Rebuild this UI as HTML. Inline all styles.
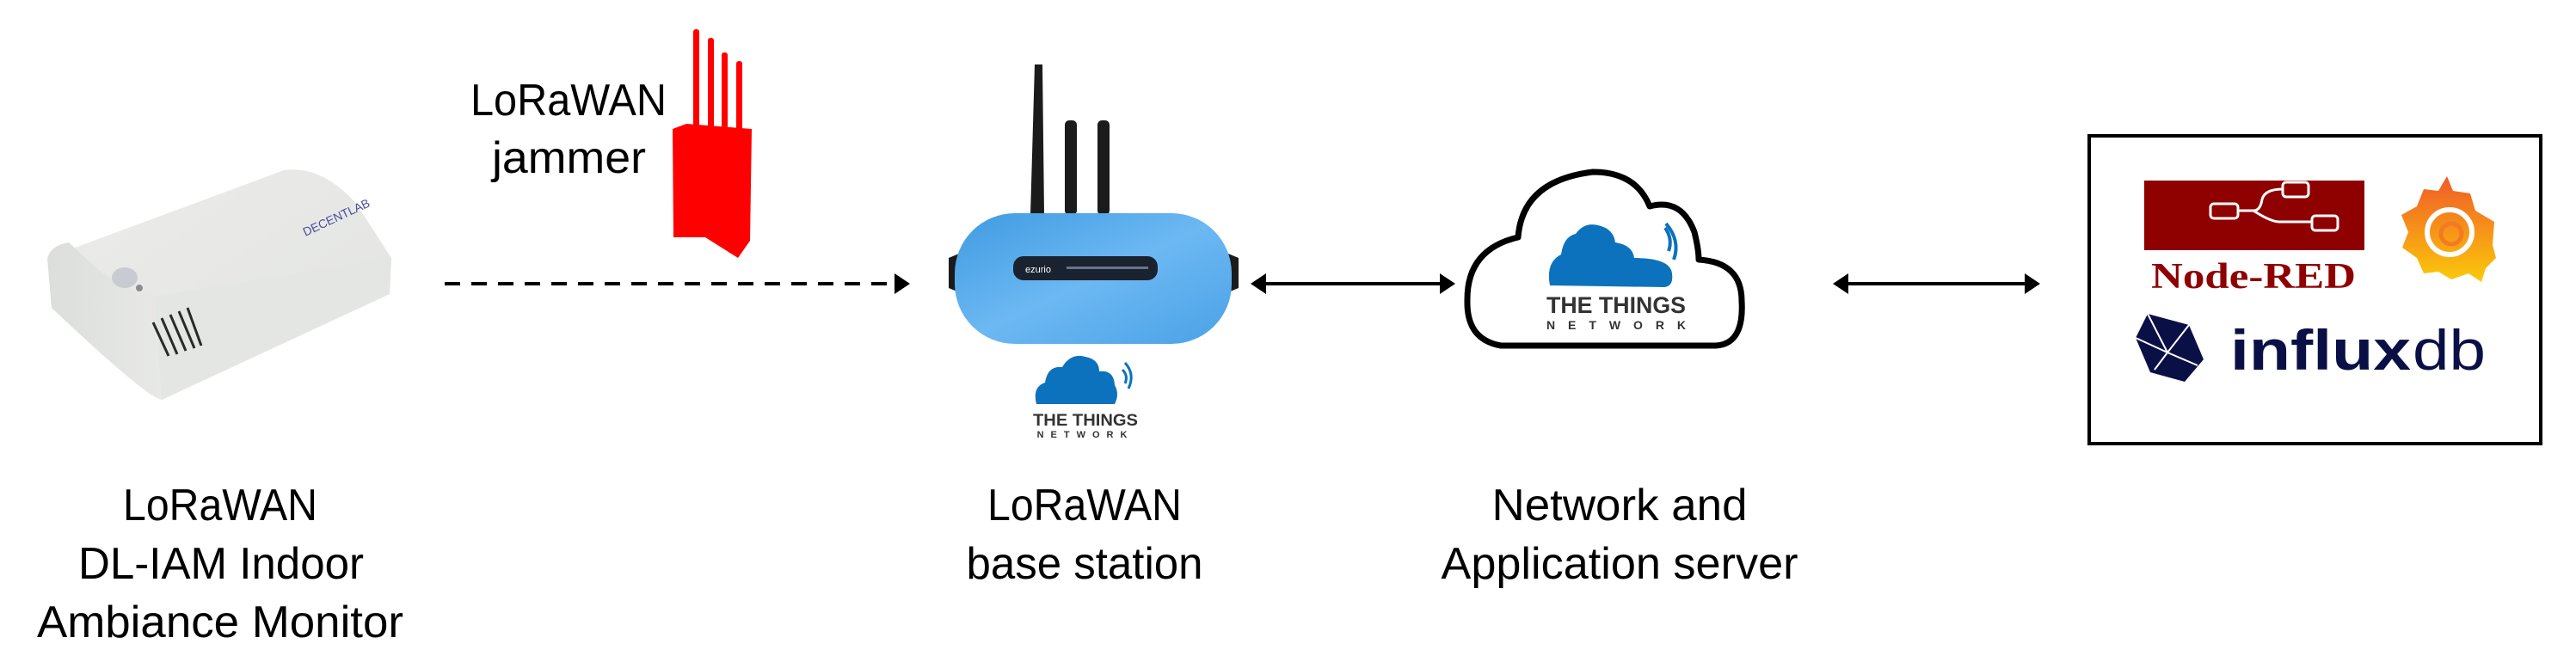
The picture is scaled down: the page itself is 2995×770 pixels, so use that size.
<!DOCTYPE html>
<html><head><meta charset="utf-8"><style>
html,body{margin:0;padding:0;background:#fff;}
svg{display:block;}
text{font-family:"Liberation Sans",sans-serif;}
</style></head><body>
<svg width="2995" height="770" viewBox="0 0 2995 770" xmlns="http://www.w3.org/2000/svg">
<defs>
<linearGradient id="sTop" x1="0" y1="0" x2="1" y2="1"><stop offset="0" stop-color="#ececea"/><stop offset="1" stop-color="#e2e4e2"/></linearGradient>
<linearGradient id="sFront" x1="0" y1="0" x2="1" y2="0"><stop offset="0" stop-color="#dcdedc"/><stop offset="1" stop-color="#e8e9e7"/></linearGradient>
<linearGradient id="blue" x1="0" y1="0" x2="1" y2="1"><stop offset="0" stop-color="#3f9be0"/><stop offset="0.5" stop-color="#6cb8f3"/><stop offset="1" stop-color="#4aa2e6"/></linearGradient>
<linearGradient id="graf" x1="0" y1="0" x2="0" y2="1"><stop offset="0" stop-color="#f05a28"/><stop offset="1" stop-color="#fbca0a"/></linearGradient>
</defs>

<!-- Sensor device -->
<path d="M55,300 L330,198 Q375,192 415,238 L455,300 L453,342 L188,465 Q170,462 60,358 Z" fill="url(#sTop)"/>
<path d="M55,300 Q60,285 80,282 L110,310 Q140,335 180,345 L188,465 Q170,462 60,358 Z" fill="url(#sFront)"/>
<path d="M180,345 L455,300 L453,342 L188,465 Z" fill="#e4e6e4"/>
<ellipse cx="145" cy="323" rx="15" ry="12" fill="#c9cbd2"/>
<circle cx="162" cy="335" r="4" fill="#8a8d90"/>
<g stroke="#2a2a2a" stroke-width="3">
<line x1="178" y1="375" x2="196" y2="414"/><line x1="188" y1="370" x2="206" y2="412"/><line x1="198" y1="366" x2="216" y2="408"/><line x1="208" y1="362" x2="226" y2="405"/><line x1="218" y1="358" x2="234" y2="402"/>
</g>
<text x="355" y="275" font-size="14" fill="#4b4e9a" transform="rotate(-25 355 275)">DECENTLAB</text>

<!-- Jammer -->
<g fill="#ff0000">
<rect x="806" y="34" width="7" height="120" rx="3"/>
<rect x="823" y="44" width="7" height="110" rx="3"/>
<rect x="839" y="61" width="7" height="93" rx="3"/>
<rect x="856" y="71" width="7" height="83" rx="3"/>
<path d="M782,150 L798,144 L874,150 L872,280 L858,300 L820,276 L783,276 Z"/>
</g>
<text x="547" y="134" font-size="52" textLength="228" lengthAdjust="spacingAndGlyphs">LoRaWAN</text>
<text x="572" y="201" font-size="52" textLength="179" lengthAdjust="spacingAndGlyphs">jammer</text>

<!-- Dashed arrow -->
<line x1="517" y1="330" x2="1045" y2="330" stroke="#000" stroke-width="4" stroke-dasharray="18,13"/>
<path d="M1040,318 L1058,330 L1040,342 Z" fill="#000"/>

<!-- Base station -->
<g fill="#1b1b1b">
<path d="M1203,75 L1212,75 L1214,250 L1198,250 Z"/>
<rect x="1238" y="140" width="14" height="110" rx="5"/>
<rect x="1276" y="140" width="14" height="110" rx="5"/>
<path d="M1103,300 L1115,295 L1115,340 L1103,335 Z"/>
<path d="M1428,295 L1440,300 L1440,335 L1428,340 Z"/>
</g>
<rect x="1110" y="248" width="322" height="152" rx="70" fill="url(#blue)"/>
<rect x="1178" y="298" width="168" height="28" rx="12" fill="#1a2230"/>
<text x="1192" y="317" font-size="11" fill="#fff">ezurio</text>
<rect x="1240" y="310" width="95" height="3" fill="#6a7488"/>

<!-- small TTN logo -->
<path d="M1205,470 Q1200,450 1215,445 Q1218,425 1235,427 Q1245,410 1262,415 Q1278,418 1278,432 Q1295,430 1296,448 Q1302,458 1296,470 Z" fill="#0c72bd"/>
<path d="M1305,430 Q1312,437 1308,446" stroke="#0c72bd" stroke-width="3" fill="none"/>
<path d="M1308,422 Q1320,435 1312,452" stroke="#0c72bd" stroke-width="3" fill="none"/>
<text x="1262" y="495" font-size="19" font-weight="bold" fill="#333" text-anchor="middle" textLength="122" lengthAdjust="spacingAndGlyphs">THE THINGS</text>
<text x="1262" y="509" font-size="11" font-weight="bold" fill="#333" text-anchor="middle" letter-spacing="8">NETWORK</text>

<!-- arrow base <-> cloud -->
<line x1="1465" y1="330" x2="1680" y2="330" stroke="#000" stroke-width="4"/>
<path d="M1454,330 L1472,318 L1472,342 Z" fill="#000"/>
<path d="M1692,330 L1674,318 L1674,342 Z" fill="#000"/>

<!-- Big cloud -->
<path d="M1745,402 Q1705,395 1706,350 Q1705,290 1765,276 Q1770,210 1852,200 Q1902,200 1918,240 Q1955,230 1970,270 Q1975,290 1975,302 Q2025,305 2025,350 Q2028,400 1995,402 Z" fill="#fff" stroke="#000" stroke-width="7" stroke-linejoin="round"/>
<path d="M1802,332 Q1797,305 1815,296 Q1818,275 1832,272 Q1842,258 1858,262 Q1876,266 1878,282 Q1898,285 1900,300 Q1942,300 1944,318 Q1946,333 1935,334 Z" fill="#0c72bd"/>
<path d="M1936,265 Q1945,278 1940,292" stroke="#0c72bd" stroke-width="4" fill="none"/>
<path d="M1937,260 Q1954,280 1946,302" stroke="#0c72bd" stroke-width="4" fill="none"/>
<text x="1879" y="364" font-size="27" font-weight="bold" fill="#333" text-anchor="middle" textLength="162" lengthAdjust="spacingAndGlyphs">THE THINGS</text>
<text x="1879" y="383" font-size="14" font-weight="bold" fill="#333" text-anchor="middle" textLength="162" lengthAdjust="spacing">NETWORK</text>

<!-- arrow cloud <-> box -->
<line x1="2140" y1="330" x2="2362" y2="330" stroke="#000" stroke-width="4"/>
<path d="M2131,330 L2149,318 L2149,342 Z" fill="#000"/>
<path d="M2372,330 L2354,318 L2354,342 Z" fill="#000"/>

<!-- Box -->
<rect x="2429" y="158" width="525" height="358" fill="#fff" stroke="#000" stroke-width="4"/>
<rect x="2493" y="210" width="256" height="81" fill="#8f0000"/>
<g fill="none" stroke="#fff" stroke-width="3">
<rect x="2570" y="237" width="32" height="17" rx="4"/>
<rect x="2654" y="212" width="30" height="17" rx="4"/>
<rect x="2688" y="251" width="30" height="17" rx="4"/>
<path d="M2602,245 L2620,245 Q2628,245 2630,232 Q2633,220 2654,220"/>
<path d="M2620,245 Q2640,258 2650,258 L2688,258"/>
</g>
<text x="2620" y="335" font-size="42" font-weight="bold" fill="#8f0000" text-anchor="middle" textLength="238" lengthAdjust="spacingAndGlyphs" style="font-family:'Liberation Serif',serif">Node-RED</text>
<!-- Grafana -->
<path d="M2845,205 L2852,222 L2872,225 L2878,245 L2900,258 L2898,285 L2902,300 L2890,312 L2885,328 L2870,318 L2850,325 L2835,316 L2818,318 L2810,300 L2793,288 L2800,270 L2792,250 L2810,240 L2818,220 L2835,222 Z" fill="url(#graf)"/>
<circle cx="2848" cy="270" r="26" fill="none" stroke="#fff" stroke-width="6"/>
<circle cx="2850" cy="272" r="12" fill="none" stroke="#f37a22" stroke-width="5"/>
<!-- Influx -->
<path d="M2497,365 L2545,378 L2562,418 L2540,444 L2500,433 L2483,393 Z" fill="#0a1045"/>
<g stroke="#fff" stroke-width="2" fill="none"><path d="M2497,365 L2520,410 L2545,378"/><path d="M2520,410 L2505,430 M2520,410 L2555,425 M2483,393 L2520,410"/></g>
<text x="2593" y="430" font-size="66" font-weight="bold" fill="#0a1045" textLength="210" lengthAdjust="spacingAndGlyphs">influx</text>
<text x="2805" y="430" font-size="66" fill="#0a1045" textLength="85" lengthAdjust="spacingAndGlyphs">db</text>

<!-- Labels -->
<g font-size="52" text-anchor="middle" fill="#000">
<text x="256" y="605" textLength="226" lengthAdjust="spacingAndGlyphs">LoRaWAN</text>
<text x="257" y="673" textLength="332" lengthAdjust="spacingAndGlyphs">DL-IAM Indoor</text>
<text x="256" y="741" textLength="426" lengthAdjust="spacingAndGlyphs">Ambiance Monitor</text>
<text x="1261" y="605" textLength="226" lengthAdjust="spacingAndGlyphs">LoRaWAN</text>
<text x="1261" y="673" textLength="275" lengthAdjust="spacingAndGlyphs">base station</text>
<text x="1883" y="605" textLength="297" lengthAdjust="spacingAndGlyphs">Network and</text>
<text x="1883" y="673" textLength="415" lengthAdjust="spacingAndGlyphs">Application server</text>
</g>
</svg>
</body></html>
